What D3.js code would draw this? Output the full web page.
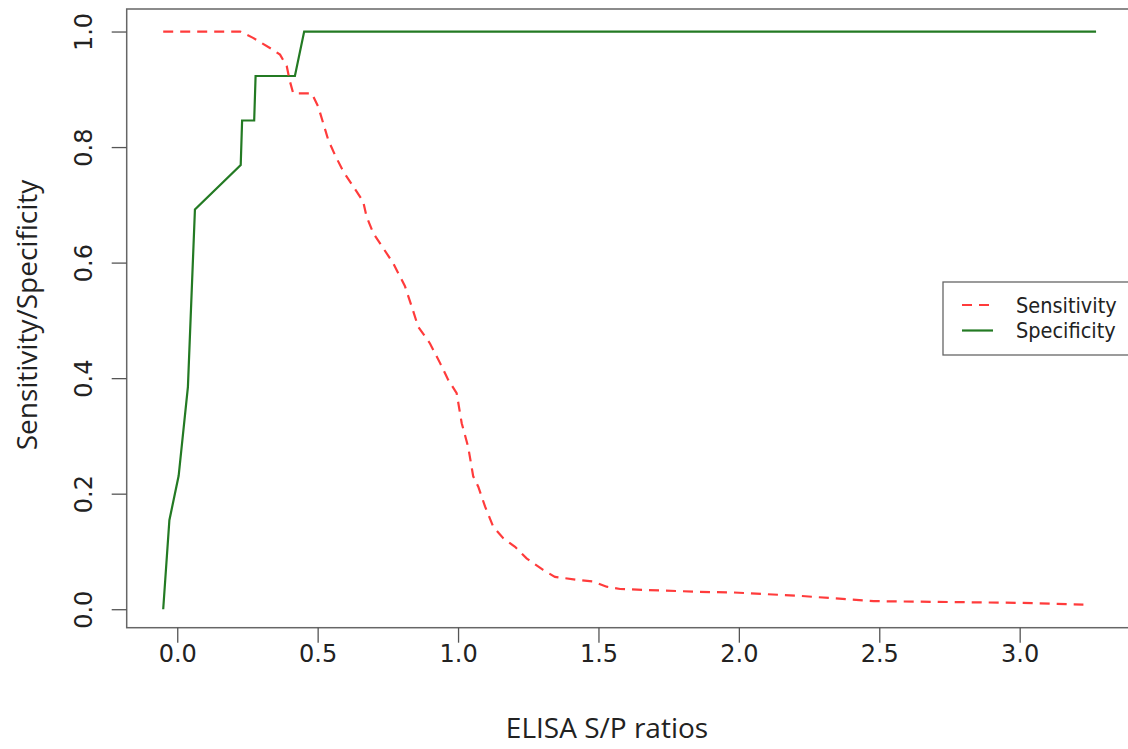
<!DOCTYPE html>
<html>
<head>
<meta charset="utf-8">
<script src="https://cdn.jsdelivr.net/npm/d3@7"></script>
<style>
  body { margin: 0; background: #fff; }
  svg { display: block; }
</style>
</head>
<body>
<div id="chart"></div>
<script>
// cut-off values (ELISA S/P ratio) and the two curves
const sensX = [-0.05, 0.224, 0.27, 0.342, 0.366, 0.39, 0.40, 0.413, 0.479, 0.502, 0.538, 0.562, 0.591,
    0.662, 0.674, 0.698, 0.769, 0.811, 0.835, 0.858, 0.90, 0.936, 0.965, 0.995, 1.013, 1.036, 1.054,
    1.072, 1.096, 1.125, 1.161, 1.203, 1.244, 1.303, 1.345, 1.422, 1.481, 1.529, 1.577, 1.861, 1.98,
    2.22, 2.48, 3.0, 3.227]
const sensY = [1.0, 1.0, 0.989, 0.968, 0.96, 0.94, 0.916, 0.893, 0.893, 0.870, 0.812, 0.786, 0.758,
    0.706, 0.680, 0.651, 0.599, 0.559, 0.524, 0.489, 0.46, 0.426, 0.397, 0.374, 0.322, 0.281, 0.230,
    0.212, 0.178, 0.143, 0.123, 0.108, 0.088, 0.068, 0.056, 0.051, 0.048, 0.039, 0.035, 0.030, 0.029,
    0.023, 0.014, 0.011, 0.008]
const specX = [-0.05, -0.028, 0.005, 0.038, 0.063, 0.226, 0.231, 0.274, 0.279, 0.419, 0.452, 3.272]
const specY = [0, 0.154, 0.231, 0.385, 0.692, 0.769, 0.846, 0.846, 0.923, 0.923, 1.0, 1.0]

const xTicks = [0, 0.5, 1.0, 1.5, 2.0, 2.5, 3.0]
const yTicks = [0, 0.2, 0.4, 0.6, 0.8, 1.0]
const seriesNames = ['Sensitivity', 'Specificity']
const seriesColors = ['#ff3b3b', '#237a23']

const width = 1128, height = 749
const box = {left: 126.7, right: 1132, top: 9, bottom: 627.7}

const svg = d3.select('#chart').append('svg')
    .attr('width', width)
    .attr('height', height)

const x = d3.scaleLinear().domain([-0.180, 3.40]).range([box.left, box.right])
const y = d3.scaleLinear().domain([-0.032, 1.039]).range([box.bottom, box.top])

// plot frame
svg.append('rect')
    .attr('x', box.left).attr('y', box.top)
    .attr('width', box.right - box.left).attr('height', box.bottom - box.top)
    .attr('fill', 'none').attr('stroke', '#666').attr('stroke-width', 1.5)

const tickFont = '"DejaVu Sans", sans-serif'

const xAxis = svg.append('g')
    .attr('transform', `translate(0,${box.bottom})`)
    .call(d3.axisBottom(x).tickValues(xTicks).tickFormat(d3.format('.1f')).tickSize(15).tickSizeOuter(0))
xAxis.select('.domain').remove()
xAxis.selectAll('line').attr('stroke', '#555').attr('stroke-width', 1.3)
xAxis.selectAll('text')
    .attr('y', 34).attr('dy', 0)
    .style('font-family', tickFont).style('font-size', '24px').attr('fill', '#222')

const yAxis = svg.append('g')
    .attr('transform', `translate(${box.left},0)`)
    .call(d3.axisLeft(y).tickValues(yTicks).tickFormat(d3.format('.1f')).tickSize(15).tickSizeOuter(0))
yAxis.select('.domain').remove()
yAxis.selectAll('line').attr('stroke', '#555').attr('stroke-width', 1.3)
yAxis.selectAll('text')
    .attr('x', 0).attr('dy', 0)
    .attr('text-anchor', 'middle')
    .attr('transform', 'translate(-35,0) rotate(-90)')
    .style('font-family', tickFont).style('font-size', '24px').attr('fill', '#222')

// axis titles
svg.append('text')
    .attr('x', 607).attr('y', 738)
    .attr('text-anchor', 'middle')
    .style('font-family', '"Open Sans", sans-serif').style('font-size', '28px')
    .attr('fill', '#222')
    .text('ELISA S/P ratios')

svg.append('text')
    .attr('transform', 'translate(37,315) rotate(-90)')
    .attr('text-anchor', 'middle')
    .style('font-family', '"Open Sans", sans-serif').style('font-size', '28px')
    .attr('fill', '#222')
    .text('Sensitivity/Specificity')

const line = d3.line().x(d => x(d[0])).y(d => y(d[1]))

svg.append('path')
    .datum(d3.zip(specX, specY))
    .attr('d', line)
    .attr('fill', 'none')
    .attr('stroke', seriesColors[1])
    .attr('stroke-width', 2.2)

svg.append('path')
    .datum(d3.zip(sensX, sensY))
    .attr('d', line)
    .attr('fill', 'none')
    .attr('stroke', seriesColors[0])
    .attr('stroke-width', 2.2)
    .attr('stroke-dasharray', '10,7')

// legend
const legend = svg.append('g').attr('transform', 'translate(943,282)')
legend.append('rect')
    .attr('width', 200).attr('height', 73)
    .attr('fill', '#fff').attr('stroke', '#666').attr('stroke-width', 1.3)
seriesNames.forEach((name, i) => {
    const row = legend.append('g').attr('transform', `translate(0,${23 + i * 25.5})`)
    row.append('line')
        .attr('x1', 19).attr('x2', 50)
        .attr('stroke', seriesColors[i]).attr('stroke-width', 2.2)
        .attr('stroke-dasharray', i === 0 ? '10,7' : null)
    row.append('text')
        .attr('x', 73).attr('y', 0).attr('dy', '0.35em')
        .style('font-family', '"DejaVu Sans Condensed", "DejaVu Sans", sans-serif')
        .style('font-stretch', 'condensed')
        .style('font-size', '21.5px')
        .attr('fill', '#222')
        .text(name)
})
</script>
</body>
</html>
